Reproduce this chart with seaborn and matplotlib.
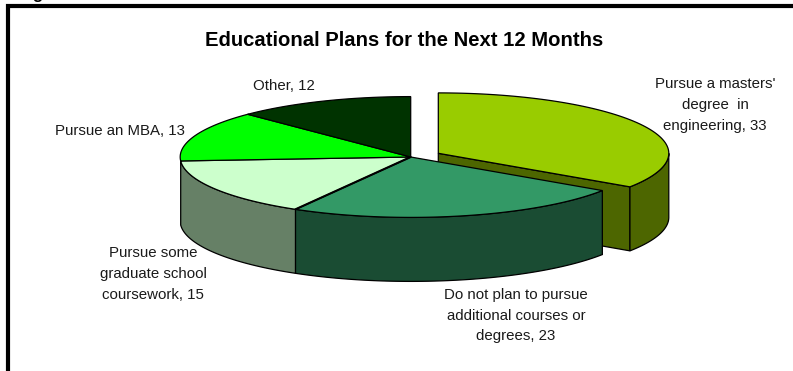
import numpy as np
import matplotlib
matplotlib.use("Agg")
import matplotlib.pyplot as plt
import seaborn as sns

# Survey responses, in clockwise order from twelve o'clock
categories = ["Pursue a masters'\ndegree  in\nengineering",
              "Do not plan to pursue\nadditional courses or\ndegrees",
              "Pursue some\ngraduate school\ncoursework",
              "Pursue an MBA",
              "Other"]
values = [33, 23, 15, 13, 12]
top_colors = ["#99CC00", "#339966", "#CCFFCC", "#00FF00", "#003300"]
wall_colors = ["#4D6600", "#1A4C33", "#668066", "#008000", "#001A00"]

W, H = 793, 371
CX, CY = 410.7, 157.0
RX, RY = 230.5, 60.4
DEPTH = 64.0
EXPLODE = (27.6, -3.7)   # offset of the first slice
label_pos = [(715, 105), (516, 315.5), (153, 274), (120, 131), (284, 86)]

sns.set_theme(style="white")
plt.rcParams["font.family"] = ["Liberation Sans", "DejaVu Sans"]

fig = plt.figure(figsize=(W / 100, H / 100), dpi=100)
ax = fig.add_axes([0, 0, 1, 1])
ax.set_xlim(0, W)
ax.set_ylim(H, 0)
ax.axis("off")


def rim(theta, cx, cy):
    """Point on the top ellipse at clockwise degrees from twelve o'clock."""
    t = np.radians(theta)
    return cx + RX * np.sin(t), cy - RY * np.cos(t)


def arc(a, b, cx, cy, n=80):
    return rim(np.linspace(a, b, n), cx, cy)


shares = np.array(values) / sum(values) * 360
edges = np.concatenate([[0], np.cumsum(shares)])
centres = [(CX + EXPLODE[0], CY + EXPLODE[1])] + [(CX, CY)] * (len(values) - 1)

LW = 0.9

# First slice sits behind the rest: its cut face and outer wall go down first
a, b = edges[0], edges[1]
cx, cy = centres[0]
ex, ey = rim(b, cx, cy)
ax.fill([cx, ex, ex, cx], [cy, ey, ey + DEPTH, cy + DEPTH],
        facecolor=wall_colors[0], edgecolor="black", lw=LW, zorder=1)
xs, ys = arc(90, b, cx, cy)
ax.fill(np.r_[xs, xs[::-1]], np.r_[ys, ys[::-1] + DEPTH],
        facecolor=wall_colors[0], edgecolor="black", lw=LW, zorder=1)
xs, ys = arc(a, b, cx, cy)
ax.fill(np.r_[cx, xs], np.r_[cy, ys],
        facecolor=top_colors[0], edgecolor="black", lw=LW, zorder=2)

# Walls of the remaining slices that face the viewer
for i in (1, 2):
    a, b = edges[i], edges[i + 1]
    cx, cy = centres[i]
    lo, hi = max(a, 90), min(b, 270)
    xs, ys = arc(lo, hi, cx, cy)
    ax.fill(np.r_[xs, xs[::-1]], np.r_[ys, ys[::-1] + DEPTH],
            facecolor=wall_colors[i], edgecolor="black", lw=LW, zorder=3)

# Top faces
for i in range(1, len(values)):
    a, b = edges[i], edges[i + 1]
    cx, cy = centres[i]
    xs, ys = arc(a, b, cx, cy)
    ax.fill(np.r_[cx, xs], np.r_[cy, ys],
            facecolor=top_colors[i], edgecolor="black", lw=LW, zorder=4)

# The divider between the two front slices reads heavier
sx, sy = rim(edges[2], CX, CY)
ax.plot([CX, sx], [CY, sy], color="black", lw=1.5, zorder=4.5)

# Category labels with their values
for name, val, (x, y) in zip(categories, values, label_pos):
    ax.text(x, y, f"{name}, {val}", ha="center", va="center", fontsize=10.85,
            color="#1A1A1A", linespacing=1.6, zorder=5)

ax.text(404, 40, "Educational Plans for the Next 12 Months", ha="center",
        va="center", fontsize=14.55, fontweight="bold", color="black")

# Caption running off the top edge, only its descender shows
ax.text(32, -1, "g", ha="left", va="baseline", fontsize=12,
        fontweight="bold", color="black")

# Heavy frame along the top and left
ax.plot([8, 8, W], [H, 6, 6], color="black", lw=3, solid_joinstyle="miter",
        solid_capstyle="butt", zorder=6)

fig.savefig("out.png", dpi=100, facecolor="white")
